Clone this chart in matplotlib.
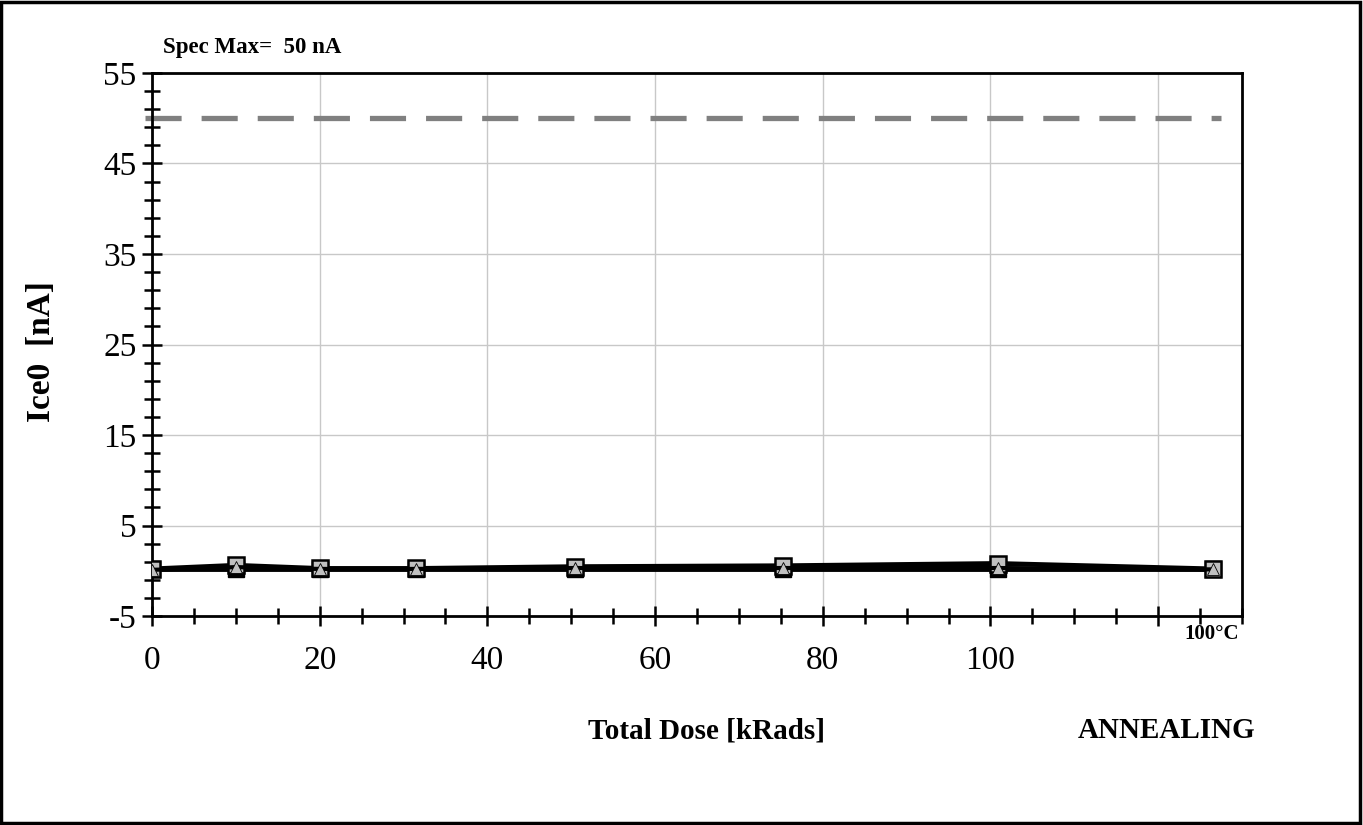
import matplotlib
matplotlib.use("Agg")
import matplotlib.pyplot as plt
from matplotlib.ticker import FixedLocator
from matplotlib.patches import Rectangle

plt.rcParams['font.family'] = ['Liberation Serif', 'DejaVu Serif']
plt.rcParams['lines.scale_dashes'] = False
plt.rcParams['axes.unicode_minus'] = False

# Dose steps (kRads); the last point is the 100°C anneal
dose = [0, 10, 20, 31.5, 50.5, 75.3, 100.9, 126.6]

# Ice0 leakage current per device [nA]
dev_a = [0.2, 0.2, 0.2, 0.2, 0.2, 0.2, 0.2, 0.2]
dev_b = [0.2, 0.6, 0.25, 0.25, 0.45, 0.55, 0.8, 0.2]
dev_c = [0.1, 0.4, 0.2, 0.2, 0.3, 0.3, 0.3, 0.15]

spec_max = 50
x_ticks = [0, 20, 40, 60, 80, 100]
x_tick_labels = ['0', '20', '40', '60', '80', '100']
y_ticks = [-5, 5, 15, 25, 35, 45, 55]
y_minor = list(range(-5, 56, 2))

W, H = 1363, 825
fig = plt.figure(figsize=(W / 100, H / 100), dpi=100)
ax = fig.add_axes([152 / W, 1 - 616 / H, (1242 - 152) / W, (616 - 73) / H])

# outer frame around the whole figure
fig.patches.append(Rectangle((0.001, 0.002), 0.997, 0.996, transform=fig.transFigure,
                             fill=False, edgecolor='black', linewidth=2.5))

ax.set_xlim(0, 130)
ax.set_ylim(-5, 55)

ax.xaxis.set_major_locator(FixedLocator(x_ticks + [120]))
ax.set_xticklabels(x_tick_labels + [''])
ax.xaxis.set_minor_locator(FixedLocator([v for v in range(5, 131, 5) if v % 20]))
ax.yaxis.set_major_locator(FixedLocator(y_ticks))
ax.yaxis.set_minor_locator(FixedLocator([v for v in y_minor if v not in y_ticks]))

ax.grid(True, which='major', color='#c8c8c8', linewidth=1.0)
ax.set_axisbelow(True)

ax.tick_params(axis='both', which='both', direction='inout', width=1.8, color='black',
               labelsize=24)
ax.tick_params(axis='x', which='major', length=14, pad=14)
ax.tick_params(axis='x', which='minor', length=11)
ax.tick_params(axis='y', which='major', length=14, pad=4)
ax.tick_params(axis='y', which='minor', length=12)

for side in ['top', 'right', 'left', 'bottom']:
    ax.spines[side].set_linewidth(2)

# spec limit
ax.plot([-0.8, 127.5], [spec_max, spec_max], color='#808080', linewidth=3.8,
        dashes=(26, 14.4), clip_on=False, zorder=2)

# device curves
ax.plot(dose, dev_a, color='black', linewidth=3.5, marker='s', markersize=11,
        markerfacecolor='black', markeredgecolor='black', zorder=3)
ax.plot(dose, dev_b, color='black', linewidth=3.5, marker='s', markersize=11,
        markerfacecolor='#c0c0c0', markeredgecolor='black', markeredgewidth=1.8, zorder=4)
ax.plot(dose, dev_c, color='black', linewidth=3.0, marker='^', markersize=8,
        markerfacecolor='#c0c0c0', markeredgecolor='black', markeredgewidth=0.6, zorder=5)

ax.set_ylabel('Ice0  [nA]', fontsize=24, fontweight='bold')
ax.yaxis.set_label_coords((57 - 152) / (1242 - 152), (616 - 352) / (616 - 73))

fig.text(163 / W, 1 - 48 / H, 'Spec Max=  50 nA', fontsize=16.5, fontweight='bold',
         ha='left', va='center')
fig.text(1212 / W, 1 - 634 / H, '100°C', fontsize=15, fontweight='bold',
         ha='center', va='center')
fig.text(706 / W, 1 - 731 / H, 'Total Dose [kRads]', fontsize=21, fontweight='bold',
         ha='center', va='center')
fig.text(1167 / W, 1 - 731 / H, 'ANNEALING', fontsize=21, fontweight='bold',
         ha='center', va='center')

fig.savefig('out.png', dpi=100)
